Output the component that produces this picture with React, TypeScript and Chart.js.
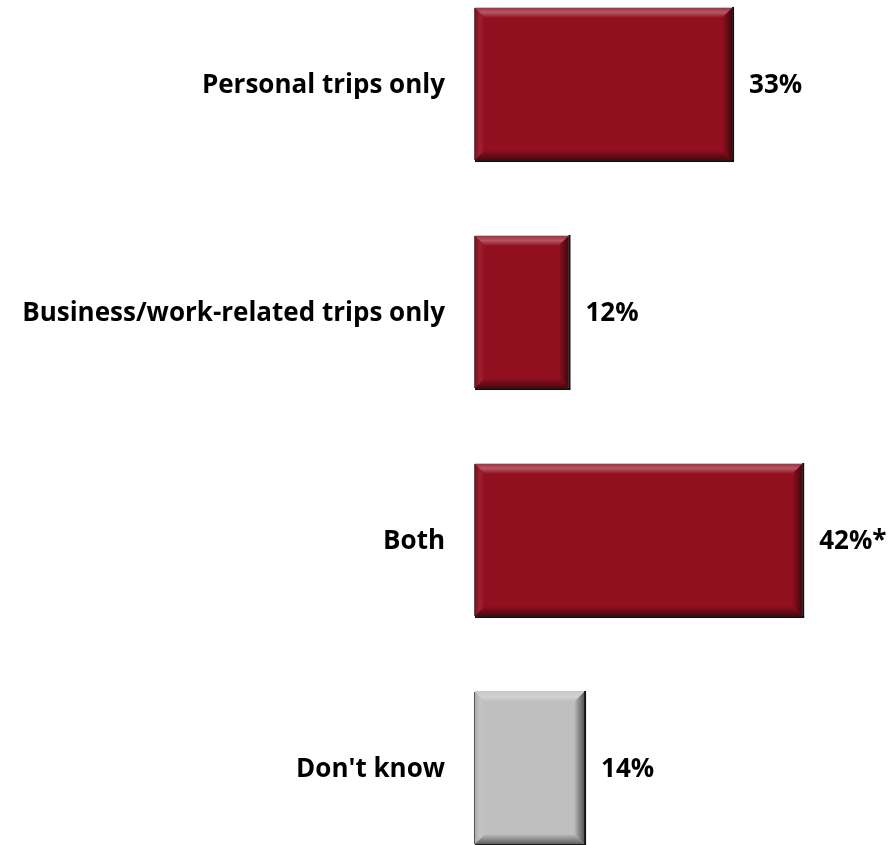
import React, { useEffect, useRef } from "react";
import { Chart, registerables } from "chart.js";

Chart.register(...registerables);

const categories = ["Personal trips only", "Business/work-related trips only", "Both", "Don't know"];
const values = [33, 12, 42, 14];
const valueLabels = ["33%", "12%", "42%*", "14%"];
const barColors = ["#920f20", "#920f20", "#920f20", "#bfbfbf"];

const FONT = "'Open Sans', Lato, sans-serif";
const FONT_SIZE = 26;

function hexToRgb(h: string) {
  const n = parseInt(h.slice(1), 16);
  return [(n >> 16) & 255, (n >> 8) & 255, n & 255];
}
function mix(h: string, target: number[], t: number) {
  const c = hexToRgb(h);
  const r = c.map((v, i) => Math.round(v + (target[i] - v) * t));
  return `rgb(${r[0]},${r[1]},${r[2]})`;
}

const bevelPlugin = {
  id: "bevel",
  afterDatasetsDraw(chart: any) {
    const ctx = chart.ctx;
    const meta = chart.getDatasetMeta(0);
    meta.data.forEach((el: any, i: number) => {
      const p = el.getProps(["x", "y", "base", "height"], true);
      const l = p.base, r = p.x, t = p.y - p.height / 2, b = p.y + p.height / 2;
      const col = barColors[i];
      const bv = 10;
      const W = [255, 255, 255], K = [0, 0, 0];
      ctx.save();
      let g = ctx.createLinearGradient(0, t, 0, t + bv);
      g.addColorStop(0, mix(col, W, 0.15));
      g.addColorStop(0.45, mix(col, W, 0.3));
      g.addColorStop(1, col);
      ctx.fillStyle = g;
      ctx.beginPath();
      ctx.moveTo(l, t); ctx.lineTo(r, t); ctx.lineTo(r - bv, t + bv); ctx.lineTo(l + bv, t + bv); ctx.closePath();
      ctx.fill();
      g = ctx.createLinearGradient(l, 0, l + bv, 0);
      g.addColorStop(0, mix(col, K, 0.1));
      g.addColorStop(0.5, mix(col, W, 0.08));
      g.addColorStop(1, col);
      ctx.fillStyle = g;
      ctx.beginPath();
      ctx.moveTo(l, t); ctx.lineTo(l + bv, t + bv); ctx.lineTo(l + bv, b - bv); ctx.lineTo(l, b); ctx.closePath();
      ctx.fill();
      g = ctx.createLinearGradient(r - bv, 0, r, 0);
      g.addColorStop(0, col);
      g.addColorStop(1, mix(col, K, 0.55));
      ctx.fillStyle = g;
      ctx.beginPath();
      ctx.moveTo(r, t); ctx.lineTo(r, b); ctx.lineTo(r - bv, b - bv); ctx.lineTo(r - bv, t + bv); ctx.closePath();
      ctx.fill();
      g = ctx.createLinearGradient(0, b - bv, 0, b);
      g.addColorStop(0, col);
      g.addColorStop(1, mix(col, K, 0.5));
      ctx.fillStyle = g;
      ctx.beginPath();
      ctx.moveTo(l, b); ctx.lineTo(l + bv, b - bv); ctx.lineTo(r - bv, b - bv); ctx.lineTo(r, b); ctx.closePath();
      ctx.fill();
      ctx.fillStyle = "#c8c8c8";
      ctx.fillRect(l, t - 1, r - l, 1);
      ctx.fillStyle = "#111";
      ctx.fillRect(r, t - 1, 2, b - t + 2);
      ctx.fillRect(l, b, r - l + 2, 2);
      ctx.fillStyle = "#555";
      ctx.fillRect(l - 1, t, 1, b - t);
      ctx.fillStyle = "#000";
      ctx.font = `bold ${FONT_SIZE}px ${FONT}`;
      ctx.textAlign = "left";
      ctx.textBaseline = "middle";
      ctx.fillText(valueLabels[i], r + 17, p.y + 2);
      ctx.restore();
    });
  },
};

export default function App() {
  const ref = useRef<HTMLCanvasElement | null>(null);
  useEffect(() => {
    if (!ref.current) return;
    const chart = new Chart(ref.current, {
      type: "bar",
      data: {
        labels: categories,
        datasets: [
          {
            data: values,
            backgroundColor: barColors,
            borderWidth: 0,
            categoryPercentage: 1,
            barPercentage: 0.667,
          },
        ],
      },
      options: {
        indexAxis: "y",
        animation: false,
        responsive: false,
        maintainAspectRatio: false,
        layout: { padding: 0 },
        plugins: { legend: { display: false }, tooltip: { enabled: false } },
        scales: {
          x: { display: false, min: 0, max: 53.4 },
          y: {
            grid: { display: false, drawTicks: false },
            border: { display: false },
            ticks: {
              padding: 30,
              labelOffset: 2,
              color: "#000",
              font: { family: FONT, weight: "bold", size: FONT_SIZE },
            },
            afterFit: (s: any) => {
              s.width = 475;
              s.paddingTop = 0;
              s.paddingBottom = 0;
            },
          },
        },
      },
      plugins: [bevelPlugin],
    });
    return () => chart.destroy();
  }, []);
  return (
    <div style={{ position: "fixed", left: 0, top: -30, width: 891, height: 912, background: "#fff" }}>
      <canvas ref={ref} width={891} height={912} style={{ width: 891, height: 912, display: "block" }} />
    </div>
  );
}
